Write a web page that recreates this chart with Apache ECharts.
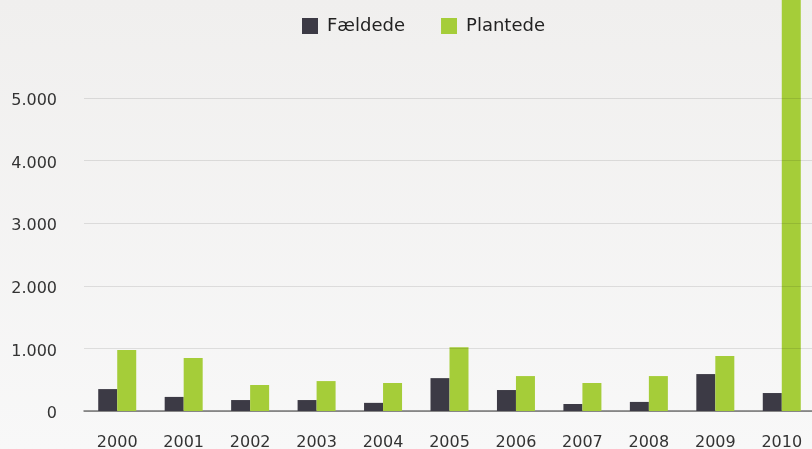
<!DOCTYPE html>
<html>
<head>
<meta charset="utf-8">
<script src="https://cdn.jsdelivr.net/npm/echarts@6/dist/echarts.min.js"></script>
<style>
  html, body { margin: 0; padding: 0; }
  #chart { width: 812px; height: 449px; }
</style>
</head>
<body>
<div id="chart"></div>
<script>
const years = ['2000', '2001', '2002', '2003', '2004', '2005', '2006', '2007', '2008', '2009', '2010']
const faeldede = [350, 225, 175, 175, 130, 525, 335, 112, 145, 590, 287]
const plantede = [975, 845, 415, 478, 447, 1020, 558, 447, 558, 877, 7000]

let myChart = echarts.init(document.getElementById('chart'))

// dansk tusindtalsseparator
function fmt(v) {
  return String(v).replace(/\B(?=(\d{3})+(?!\d))/g, '.')
}

myChart.setOption({
  backgroundColor: {
    type: 'linear', x: 0, y: 0, x2: 0, y2: 1,
    colorStops: [
      { offset: 0, color: '#f0efee' },
      { offset: 1, color: '#f8f8f8' }
    ]
  },
  textStyle: { fontFamily: 'DejaVu Sans' },
  legend: {
    top: 12,
    left: 297,
    itemWidth: 16,
    itemHeight: 16,
    itemGap: 36,
    icon: 'rect',
    textStyle: { fontSize: 18, color: '#222', padding: [0, 0, 0, 4] },
    data: ['Fældede', 'Plantede']
  },
  grid: {
    left: 84,
    right: -3,
    top: 98,
    bottom: 38,
    outerBoundsMode: 'none'
  },
  xAxis: {
    type: 'category',
    data: years,
    axisTick: { show: false },
    axisLine: { lineStyle: { color: '#777', width: 1.5 } },
    axisLabel: { color: '#333', fontSize: 16, margin: 24 }
  },
  yAxis: {
    type: 'value',
    min: 0,
    max: 5000,
    interval: 1000,
    z: 5,
    axisLine: { show: false },
    axisTick: { show: false },
    splitLine: { lineStyle: { color: 'rgba(0,0,0,0.1)', width: 1 } },
    axisLabel: {
      color: '#333',
      fontSize: 16,
      margin: 27,
      padding: [0, 0, 0, 0],
      verticalAlign: 'top',
      lineHeight: 6,
      formatter: fmt
    }
  },
  series: [
    {
      name: 'Fældede',
      type: 'bar',
      data: faeldede,
      barWidth: 19,
      barGap: '0%',
      clip: false,
      itemStyle: { color: '#3c3a45' }
    },
    {
      name: 'Plantede',
      type: 'bar',
      data: plantede,
      barWidth: 19,
      barGap: '0%',
      clip: false,
      itemStyle: { color: '#a5cd39' }
    }
  ]
})
</script>
</body>
</html>
